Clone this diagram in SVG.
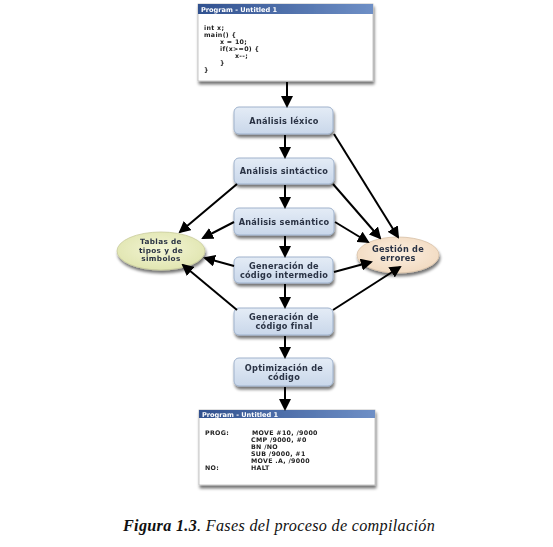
<svg xmlns="http://www.w3.org/2000/svg" width="553" height="547" viewBox="0 0 553 547">
<style>
.box{fill:url(#boxg);stroke:#9fb2cc;stroke-width:1}
.bt{font-family:"DejaVu Sans",Verdana,sans-serif;font-size:8.2px;letter-spacing:0.25px;font-weight:bold;fill:#2a3344;text-anchor:middle}
.et{font-size:7.3px;letter-spacing:0.35px}
.code{font-family:"DejaVu Sans",Verdana,sans-serif;font-size:6.3px;letter-spacing:0.3px;font-weight:bold;fill:#222}
.ttl{font-family:"DejaVu Sans",Verdana,sans-serif;font-size:6.6px;font-weight:bold;fill:#fff}
.con{stroke:#000;stroke-width:2;fill:none;marker-end:url(#ah)}
.cap{font-family:"Liberation Serif","Times New Roman",serif;font-size:16.2px;letter-spacing:0.3px;font-style:italic;fill:#111}
</style>
<defs>
<linearGradient id="boxg" x1="0" y1="0" x2="0" y2="1"><stop offset="0" stop-color="#e4ecf6"/><stop offset="1" stop-color="#c9d7ea"/></linearGradient>
<linearGradient id="tbar" x1="0" y1="0" x2="1" y2="0"><stop offset="0" stop-color="#31518f"/><stop offset="1" stop-color="#6e8fc6"/></linearGradient>
<radialGradient id="ylw" cx="0.5" cy="0.45" r="0.6"><stop offset="0" stop-color="#f3f5d4"/><stop offset="1" stop-color="#dfe4ae"/></radialGradient>
<radialGradient id="org" cx="0.5" cy="0.45" r="0.6"><stop offset="0" stop-color="#fcefe0"/><stop offset="1" stop-color="#f1d9bf"/></radialGradient>
<filter id="sh" x="-20%" y="-20%" width="140%" height="150%"><feGaussianBlur in="SourceAlpha" stdDeviation="1.6"/><feOffset dx="1" dy="2.5"/><feComponentTransfer><feFuncA type="linear" slope="0.55"/></feComponentTransfer><feMerge><feMergeNode/><feMergeNode in="SourceGraphic"/></feMerge></filter>
<marker id="ah" markerWidth="6" markerHeight="6" refX="5" refY="3" orient="auto" markerUnits="strokeWidth"><path d="M0,0 L6,3 L0,6 z" fill="#000"/></marker>
</defs>
<rect width="553" height="547" fill="#fff"/>

<g id="src-window" filter="url(#sh)">
<rect x="198" y="4" width="175" height="77" fill="#fff" stroke="#b8b8b8" stroke-width="0.8"/>
<rect x="198" y="4" width="175" height="10" fill="url(#tbar)"/>
<text class="ttl" x="201" y="11.5">Program - Untitled 1</text>
<text class="code" x="204" y="30">int x;</text>
<text class="code" x="204" y="37">main() {</text>
<text class="code" x="220" y="44">x = 10;</text>
<text class="code" x="220" y="51">if(x&gt;=0) {</text>
<text class="code" x="235" y="58">x--;</text>
<text class="code" x="220" y="65">}</text>
<text class="code" x="204" y="72">}</text>
</g>

<g id="lexico" filter="url(#sh)"><rect class="box" x="234" y="107" width="99" height="27" rx="5"/><text class="bt" x="284" y="123.5">Análisis léxico</text></g>
<g id="sintactico" filter="url(#sh)"><rect class="box" x="234" y="158" width="100" height="26" rx="5"/><text class="bt" x="284" y="174">Análisis sintáctico</text></g>
<g id="semantico" filter="url(#sh)"><rect class="box" x="234" y="208" width="100" height="27" rx="5"/><text class="bt" x="284" y="224.5">Análisis semántico</text></g>
<g id="intermedio" filter="url(#sh)"><rect class="box" x="234" y="257" width="99" height="26" rx="5"/><text class="bt" x="284" y="268.5">Generación de</text><text class="bt" x="284" y="277.5">código intermedio</text></g>
<g id="final" filter="url(#sh)"><rect class="box" x="234" y="308" width="99" height="27" rx="5"/><text class="bt" x="284" y="320">Generación de</text><text class="bt" x="284" y="329">código final</text></g>
<g id="optimizacion" filter="url(#sh)"><rect class="box" x="234" y="358" width="99" height="28" rx="5"/><text class="bt" x="284" y="370.5">Optimización de</text><text class="bt" x="284" y="379.5">código</text></g>

<g id="tablas" filter="url(#sh)"><ellipse cx="161" cy="251" rx="44" ry="19" fill="url(#ylw)" stroke="#c9cc9c" stroke-width="0.8"/><text class="bt et" x="161" y="244">Tablas de</text><text class="bt et" x="161" y="252.5">tipos y de</text><text class="bt et" x="161" y="261">simbolos</text></g>
<g id="gestion" filter="url(#sh)"><ellipse cx="398" cy="255" rx="41" ry="18" fill="url(#org)" stroke="#d8c2a8" stroke-width="0.8"/><text class="bt" x="398" y="252">Gestión de</text><text class="bt" x="398" y="261">errores</text></g>

<g id="out-window" filter="url(#sh)">
<rect x="199" y="410" width="176" height="75" fill="#fff" stroke="#b8b8b8" stroke-width="0.8"/>
<rect x="199" y="410" width="176" height="8" fill="url(#tbar)"/>
<text class="ttl" x="202" y="416.5">Program - Untitled 1</text>
<text class="code" x="205" y="435">PROG:</text>
<text class="code" x="252" y="435">MOVE #10, /9000</text>
<text class="code" x="251" y="442">CMP /9000, #0</text>
<text class="code" x="251" y="449">BN /NO</text>
<text class="code" x="251" y="456">SUB /9000, #1</text>
<text class="code" x="251" y="463">MOVE .A, /9000</text>
<text class="code" x="205" y="470">NO:</text>
<text class="code" x="251" y="470">HALT</text>
</g>

<g id="connectors">
<line class="con" x1="287" y1="82" x2="287" y2="106"/>
<line class="con" x1="285" y1="135" x2="285" y2="157"/>
<line class="con" x1="285" y1="185" x2="285" y2="207"/>
<line class="con" x1="285" y1="236" x2="285" y2="256"/>
<line class="con" x1="285" y1="284" x2="285" y2="307"/>
<line class="con" x1="285" y1="336" x2="285" y2="357"/>
<line class="con" x1="285" y1="387" x2="285" y2="409"/>
<line class="con" x1="334" y1="134" x2="398" y2="237"/>
<line class="con" x1="333" y1="184" x2="380" y2="238"/>
<line class="con" x1="335" y1="222" x2="368" y2="242"/>
<line class="con" x1="334" y1="272" x2="371" y2="262"/>
<line class="con" x1="333" y1="310" x2="400" y2="267"/>
<line class="con" x1="237" y1="184" x2="180" y2="232"/>
<line class="con" x1="234" y1="222" x2="203" y2="238"/>
<line class="con" x1="234" y1="266" x2="205" y2="258"/>
<line class="con" x1="237" y1="310" x2="183" y2="265"/>
</g>

<text class="cap" x="123" y="531"><tspan font-weight="bold">Figura 1.3</tspan>. Fases del proceso de compilación</text>
</svg>
